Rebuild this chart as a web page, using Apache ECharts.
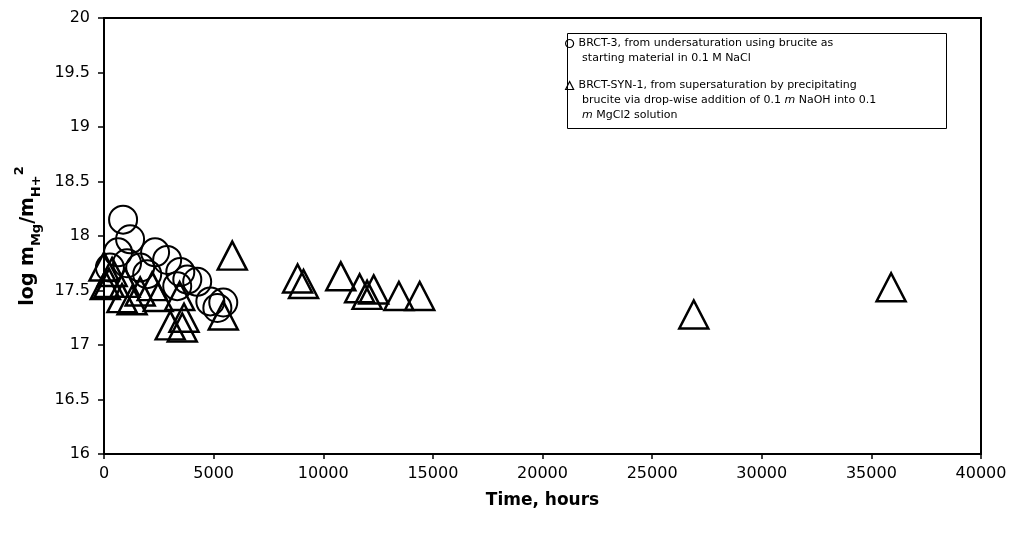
<!DOCTYPE html>
<html>
<head>
<meta charset="utf-8">
<script src="https://cdn.jsdelivr.net/npm/echarts@6/dist/echarts.min.js"></script>
<style>
html, body { margin: 0; padding: 0; background: #fff; }
#main { width: 1016px; height: 535px; }
</style>
</head>
<body>
<div id="main"></div>
<script>
// BRCT-3 (circles) - time in hours, log mMg/mH+^2
var brct3Time = [870, 1190, 640, 1050, 2330, 2880, 270, 1650, 1970, 3480, 3800, 4250, 3340, 4850, 5440, 5170];
var brct3Log = [18.15, 17.97, 17.85, 17.75, 17.85, 17.78, 17.71, 17.71, 17.65, 17.67, 17.60, 17.58, 17.54, 17.40, 17.39, 17.34];

// BRCT-SYN-1 (triangles)
var synTime = [0, 60, 230, 370, 820, 960, 1280, 1650, 2200, 2470, 3020, 3450, 3570, 3650, 5440, 5850,
  8830, 9100, 10800, 11660, 12000, 12300, 13450, 14400, 26900, 35900];
var synLog = [17.72, 17.55, 17.57, 17.67, 17.43, 17.57, 17.41, 17.49, 17.54, 17.44, 17.18, 17.45, 17.16, 17.25, 17.27, 17.82,
  17.61, 17.56, 17.63, 17.52, 17.46, 17.51, 17.45, 17.45, 17.28, 17.53];

var name1 = "BRCT-3, from undersaturation using brucite as starting material in 0.1 M NaCl";
var name2 = "BRCT-SYN-1, from supersaturation by precipitating brucite via drop-wise addition of 0.1 m NaOH into 0.1 m MgCl2 solution";

function pairs(xs, ys) {
  return xs.map(function (x, i) { return [x, ys[i]]; });
}

var font = "DejaVu Sans";
var myChart = echarts.init(document.getElementById("main"));

var legendText = {
  fontFamily: font,
  fontSize: 11,
  lineHeight: 15,
  color: "#000",
  rich: {
    i: { fontFamily: font, fontSize: 11, lineHeight: 15, fontStyle: "italic", color: "#000" }
  }
};

var option = {
  animation: false,
  backgroundColor: "#fff",
  grid: {
    left: 104,
    right: 35,
    top: 18,
    bottom: 81,
    show: true,
    borderColor: "#000",
    borderWidth: 2
  },
  graphic: [
    {
      type: "rect",
      left: 565,
      top: 31,
      shape: { width: 379, height: 95 },
      style: { fill: "none", stroke: "#000", lineWidth: 1 },
      z: 10
    }
  ],
  legend: [
    {
      data: [name1],
      orient: "vertical",
      left: 565,
      top: 21,
      padding: 0,
      itemWidth: 8,
      itemHeight: 8,
      itemGap: 0,
      itemStyle: { borderWidth: 1.2 },
      textStyle: legendText,
      formatter: function () {
        return "\nBRCT-3, from undersaturation using brucite as\n starting material in 0.1 M NaCl";
      }
    },
    {
      data: [name2],
      orient: "vertical",
      left: 565,
      top: 48,
      padding: 0,
      itemWidth: 8,
      itemHeight: 8,
      itemGap: 0,
      itemStyle: { borderWidth: 1.2 },
      textStyle: legendText,
      formatter: function () {
        return "\n\nBRCT-SYN-1, from supersaturation by precipitating\n brucite via drop-wise addition of 0.1 {i|m} NaOH into 0.1\n {i|m} MgCl2 solution";
      }
    }
  ],
  xAxis: {
    type: "value",
    min: 0,
    max: 40000,
    interval: 5000,
    name: "Time, hours",
    nameLocation: "middle",
    nameGap: 38,
    nameTextStyle: { fontFamily: font, fontSize: 17, fontWeight: "bold", color: "#000" },
    axisLine: { lineStyle: { color: "#000", width: 2 } },
    axisTick: { show: true, length: 5, lineStyle: { color: "#000", width: 1.5 } },
    axisLabel: {
      fontFamily: font, fontSize: 16, color: "#000", margin: 12,
      formatter: function (v) { return String(v); }
    },
    splitLine: { show: false }
  },
  yAxis: {
    type: "value",
    min: 16,
    max: 20,
    interval: 0.5,
    name: "{b|log m}{s|Mg}{b|/m}{s|H+}{p|2}",
    nameLocation: "middle",
    nameGap: 58,
    nameRotate: 90,
    nameTextStyle: {
      color: "#000",
      rich: {
        b: { fontFamily: font, fontSize: 19, fontWeight: "bold", color: "#000", lineHeight: 30, verticalAlign: "middle" },
        s: { fontFamily: font, fontSize: 13, fontWeight: "bold", color: "#000", lineHeight: 30, verticalAlign: "bottom" },
        p: { fontFamily: font, fontSize: 13, fontWeight: "bold", color: "#000", lineHeight: 30, verticalAlign: "top" }
      }
    },
    axisLine: { show: true, lineStyle: { color: "#000", width: 2 } },
    axisTick: { show: true, length: 6, lineStyle: { color: "#000", width: 1.5 } },
    axisLabel: { fontFamily: font, fontSize: 16, color: "#000", margin: 14 },
    splitLine: { show: false }
  },
  series: [
    {
      name: name1,
      type: "scatter",
      symbol: "circle",
      symbolSize: 28,
      data: pairs(brct3Time, brct3Log),
      itemStyle: { color: "rgba(255,255,255,0)", borderColor: "#000", borderWidth: 2, opacity: 1 }
    },
    {
      name: name2,
      type: "scatter",
      symbol: "triangle",
      symbolSize: [29, 28],
      data: pairs(synTime, synLog),
      itemStyle: { color: "rgba(255,255,255,0)", borderColor: "#000", borderWidth: 2.5, opacity: 1 }
    }
  ]
};

myChart.setOption(option);
window.addEventListener("resize", function () {
  myChart.resize();
});
</script>
</body>
</html>
